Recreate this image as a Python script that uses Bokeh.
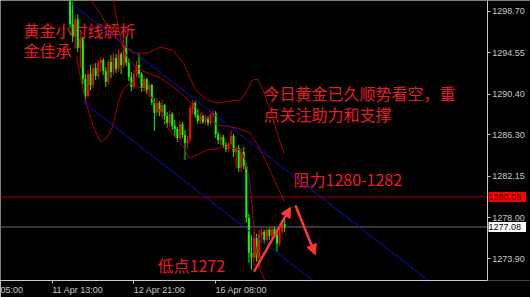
from bokeh.plotting import figure
from bokeh.models import (ColumnDataSource, FixedTicker, PrintfTickFormatter,
                          Label, Arrow, NormalHead)
from bokeh.embed import file_html
from bokeh.resources import INLINE

# Hourly gold bars, x = hours counted from 11 Apr 13:00
bar = list(range(7, 92))
open_ = [1300.6, 1297.4, 1296.3, 1297.9, 1295.0, 1295.9, 1291.9, 1290.2, 1292.4, 1291.3,
         1293.0, 1292.2, 1293.5, 1293.8, 1292.7, 1291.6, 1293.6, 1292.6, 1294.0, 1292.9,
         1294.4, 1293.3, 1295.3, 1293.5, 1292.1, 1291.1, 1292.4, 1293.3, 1292.4, 1291.0,
         1291.9, 1290.8, 1291.3, 1289.6, 1288.5, 1289.5, 1288.6, 1289.3, 1288.2, 1287.5,
         1288.4, 1287.2, 1286.9, 1286.0, 1287.4, 1286.3, 1285.5, 1285.9, 1289.0, 1289.5,
         1288.3, 1287.7, 1288.2, 1287.6, 1288.0, 1287.5, 1288.3, 1288.5, 1286.4, 1285.8,
         1286.1, 1285.3, 1284.9, 1285.4, 1286.2, 1284.6, 1285.0, 1283.0, 1284.6, 1283.2,
         1278.0, 1274.5, 1274.0, 1276.0, 1274.0, 1276.3, 1276.6, 1275.8, 1276.8, 1276.2,
         1276.9, 1276.3, 1275.4, 1276.6, 1277.4]
high = [1301.2, 1299.6, 1298.3, 1298.4, 1296.5, 1296.1, 1292.4, 1292.8, 1293.3, 1293.4,
        1293.5, 1293.8, 1294.1, 1294.0, 1293.1, 1293.9, 1294.3, 1294.5, 1294.4, 1294.9,
        1294.6, 1295.9, 1296.2, 1294.0, 1292.6, 1292.8, 1293.7, 1294.4, 1292.6, 1292.2,
        1292.0, 1291.6, 1291.4, 1290.0, 1290.0, 1289.7, 1289.8, 1289.4, 1288.6, 1288.8,
        1288.6, 1287.8, 1287.1, 1287.7, 1287.6, 1286.8, 1286.2, 1289.3, 1289.8, 1289.7,
        1288.9, 1288.5, 1288.4, 1288.3, 1288.2, 1288.5, 1288.8, 1288.7, 1286.6, 1286.4,
        1286.3, 1285.6, 1285.6, 1286.8, 1286.4, 1285.2, 1285.3, 1285.0, 1285.1, 1283.5,
        1278.4, 1276.3, 1276.6, 1276.4, 1276.8, 1276.9, 1276.8, 1277.0, 1277.0, 1277.2,
        1277.1, 1276.9, 1276.9, 1277.8, 1277.9]
low = [1297.0, 1295.6, 1294.9, 1294.6, 1293.0, 1291.4, 1289.6, 1290.0, 1290.8, 1291.0,
       1291.8, 1291.9, 1292.6, 1292.3, 1291.1, 1291.3, 1292.0, 1292.3, 1292.5, 1292.6,
       1292.4, 1293.0, 1293.2, 1291.7, 1290.7, 1290.9, 1292.1, 1292.0, 1290.6, 1290.6,
       1290.4, 1290.1, 1289.3, 1286.7, 1288.2, 1288.2, 1288.0, 1287.4, 1287.0, 1287.1,
       1286.8, 1286.1, 1285.6, 1285.8, 1286.0, 1283.8, 1284.9, 1285.6, 1288.4, 1288.0,
       1287.4, 1287.4, 1287.4, 1287.3, 1287.2, 1287.3, 1288.0, 1286.0, 1285.4, 1285.2,
       1285.0, 1284.6, 1284.6, 1285.2, 1284.1, 1283.0, 1282.6, 1282.6, 1282.9, 1277.5,
       1273.5, 1272.8, 1273.2, 1273.6, 1273.0, 1275.5, 1275.4, 1275.6, 1275.8, 1276.0,
       1276.0, 1274.6, 1275.2, 1276.4, 1276.6]
close = [1297.4, 1296.3, 1297.9, 1295.0, 1295.9, 1291.9, 1290.2, 1292.4, 1291.3, 1293.0,
         1292.2, 1293.5, 1293.8, 1292.7, 1291.6, 1293.6, 1292.6, 1294.0, 1292.9, 1294.4,
         1293.3, 1295.3, 1293.5, 1292.1, 1291.1, 1292.4, 1293.3, 1292.4, 1291.0, 1291.9,
         1290.8, 1291.3, 1289.6, 1288.5, 1289.5, 1288.6, 1289.3, 1288.2, 1287.5, 1288.4,
         1287.2, 1286.9, 1286.0, 1287.4, 1286.3, 1285.5, 1285.9, 1289.0, 1289.5, 1288.3,
         1287.7, 1288.2, 1287.6, 1288.0, 1287.5, 1288.3, 1288.5, 1286.4, 1285.8, 1286.1,
         1285.3, 1284.9, 1285.4, 1286.2, 1284.6, 1285.0, 1283.0, 1284.6, 1283.2, 1278.0,
         1274.5, 1274.0, 1276.0, 1274.0, 1276.3, 1276.6, 1275.8, 1276.8, 1276.2, 1276.9,
         1276.3, 1275.4, 1276.6, 1277.4, 1277.08]

# Bollinger bands
upper_bar = [13.4, 15.0, 18.9, 21.6, 24.8, 27.9, 31.8, 37.3, 42.4, 47.1, 51.4, 56.1, 60.8,
             64.7, 69.8, 73.7, 76.4, 78.4, 80.4, 82.3, 83.9, 86.6, 89.3, 91.0]
upper_val = [1301.3, 1299.8, 1298.5, 1297.1, 1296.1, 1295.3, 1294.5, 1294.5, 1295.1, 1294.8,
             1293.5, 1290.8, 1289.8, 1289.5, 1289.7, 1289.8, 1290.8, 1291.8, 1291.9, 1291.0,
             1289.8, 1287.8, 1285.5, 1284.4]
mid_bar = [23.2, 24.0, 24.8, 25.6, 26.7, 28.3, 30.6, 34.6, 42.4, 47.6, 54.1, 60.0, 64.7,
           72.5, 77.6, 80.4, 82.7, 85.5, 89.3, 91.0]
mid_val = [1300.8, 1299.8, 1298.5, 1297.5, 1296.1, 1294.6, 1293.6, 1292.8, 1292.0, 1291.1,
           1289.6, 1288.1, 1287.3, 1287.0, 1286.5, 1285.3, 1284.1, 1282.6, 1280.5, 1279.6]
lower_bar = [9.5, 11.1, 13.0, 15.8, 18.9, 21.3, 23.6, 25.9, 27.5, 30.6, 34.6, 38.5, 42.4,
             45.1, 48.3, 51.4, 53.4, 56.9, 60.8, 68.6, 73.7, 75.6, 77.2, 78.4, 79.6, 81.1,
             83.1, 85.4, 89.3, 91.0]
lower_val = [1294.3, 1292.0, 1289.8, 1287.3, 1285.6, 1286.0, 1287.1, 1289.5, 1290.8, 1291.5,
             1291.0, 1290.2, 1288.6, 1287.1, 1286.0, 1285.1, 1284.0, 1284.3, 1284.8, 1285.1,
             1284.8, 1283.8, 1281.8, 1278.8, 1275.3, 1273.0, 1271.8, 1270.6, 1269.8, 1269.5]

# Axis labels
time_ticks = [-32, 0, 32, 64]
time_labels = ["10 Apr 05:00", "11 Apr 13:00", "12 Apr 21:00", "16 Apr 08:00"]
price_ticks = [1298.70, 1294.55, 1290.40, 1286.30, 1282.15, 1278.00, 1273.90]

resistance_level = 1280.08
bid_price = 1277.08

# Downward channel: start bar of each line, top-line price at its start, slope per bar, width
channel_start = [7.5, 11.5]
channel_top = 1299.47
channel_slope = -0.1986
channel_width = 8.97

PX_PER_BAR = 2.5547
X_START = -20.23
X_END = X_START + 530 / PX_PER_BAR          # plot area runs under the price scale
AXIS_X = X_START + 486.7 / PX_PER_BAR       # where the price scale sits
TEXT_RED = "#ec1c24"
AXIS_GREY = "#c8c8c8"

p = figure(width=530, height=297, x_range=(X_START, X_END), y_range=(1271.72, 1299.77),
           output_backend="svg", toolbar_location=None, y_axis_location="right",
           min_border_left=0, min_border_top=0, min_border_right=0, min_border_bottom=16)
p.background_fill_color = "black"
p.border_fill_color = "black"
p.outline_line_color = None
p.grid.visible = False

# Notes on the chart (behind the candles)
notes = [
    ("黄金小时线解析", 23, 251),
    ("金佳承", 23, 231),
    ("今日黄金已久顺势看空，重", 263, 188),
    ("点关注助力和支撑", 263, 167),
    ("阻力1280-1282", 293, 102),
    ("低点1272", 157, 16),
]
for txt, sx, sy in notes:
    p.add_layout(Label(x=sx, y=sy, x_units="screen", y_units="screen", text=txt,
                       text_font="Noto Sans CJK SC", text_font_size="16px",
                       text_color=TEXT_RED, text_baseline="middle", level="underlay"))

# Horizontal levels, up to the price scale
p.segment(x0=[X_START, X_START], y0=[resistance_level, bid_price],
          x1=[AXIS_X, AXIS_X], y1=[resistance_level, bid_price],
          line_color=["#a00000", "#6e6e6e"], line_width=1)

# Candles
colors = ["#ff0000" if c > o else "#00ff00" for o, c in zip(open_, close)]
src = ColumnDataSource(dict(bar=bar, high=high, low=low,
                            top=[max(o, c) for o, c in zip(open_, close)],
                            bottom=[min(o, c) for o, c in zip(open_, close)],
                            color=colors))
p.segment(x0="bar", y0="high", x1="bar", y1="low", source=src, line_color="color", line_width=1)
p.vbar(x="bar", width=0.8, top="top", bottom="bottom", source=src,
       fill_color="color", line_color=None)

# Bollinger bands
for bx, by in ((upper_bar, upper_val), (mid_bar, mid_val), (lower_bar, lower_val)):
    p.line(bx, by, line_color="#b00000", line_width=1)

# Channel lines, ending at the price scale
for start, off in zip(channel_start, (0.0, channel_width)):
    y0 = channel_top - off + channel_slope * (start - channel_start[0])
    y1 = y0 + channel_slope * (AXIS_X - start)
    p.line([start, AXIS_X], [y0, y1], line_color="#1010c8", line_width=1)

# Arrows: rebound up, then fall back
arrow_red = "#ff3636"
for (xs, ys, xe, ye) in ((79.0, 1272.6, 93.3, 1279.06), (95.2, 1279.26, 103.0, 1274.3)):
    p.add_layout(Arrow(x_start=xs, y_start=ys, x_end=xe, y_end=ye, line_color=arrow_red,
                       line_width=2.5,
                       end=NormalHead(size=10, fill_color=arrow_red, line_color=arrow_red)))

# Price scale, pinned at AXIS_X so the tags beside it stay inside the plot area
p.yaxis.fixed_location = AXIS_X
p.yaxis.ticker = FixedTicker(ticks=price_ticks)
p.yaxis.formatter = PrintfTickFormatter(format="%.2f")
p.yaxis.axis_line_color = AXIS_GREY
p.yaxis.major_tick_line_color = AXIS_GREY
p.yaxis.major_tick_out = 3
p.yaxis.major_tick_in = 0
p.yaxis.minor_tick_line_color = None
p.yaxis.major_label_standoff = 2
p.yaxis.major_label_text_color = AXIS_GREY
p.yaxis.major_label_text_font = "Liberation Sans"
p.yaxis.major_label_text_font_size = "9px"

# Time axis: labels start at their tick, so centre them half a label to the right
LABEL_HALF = 10
centers, overrides = [], {}
for t, lab in zip(time_ticks, time_labels):
    c = t + LABEL_HALF
    if c < X_START:
        lab = lab.split()[-1]
        c = int(round(X_START + 4.3))
    centers.append(c)
    overrides[c] = lab
p.xaxis.ticker = FixedTicker(ticks=centers, minor_ticks=time_ticks)
p.xaxis.major_label_overrides = overrides
p.xaxis.bounds = (X_START, AXIS_X)
p.xaxis.axis_line_color = AXIS_GREY
p.xaxis.major_tick_line_color = None
p.xaxis.major_tick_out = 3
p.xaxis.major_tick_in = 0
p.xaxis.minor_tick_line_color = AXIS_GREY
p.xaxis.minor_tick_out = 3
p.xaxis.minor_tick_in = 0
p.xaxis.major_label_standoff = 1
p.xaxis.major_label_text_color = AXIS_GREY
p.xaxis.major_label_text_font = "Liberation Sans"
p.xaxis.major_label_text_font_size = "9px"

# Price tags on the scale
for level, fill, ink in ((resistance_level, "#ff0000", "#400000"),
                         (bid_price, "white", "black")):
    p.add_layout(Label(x=488, y=level, x_units="screen", y_units="data",
                       text=f" {level:.2f} ", text_font="Liberation Sans",
                       text_font_size="9px", text_color=ink, text_baseline="middle",
                       background_fill_color=fill))

open("out.html", "w").write(file_html(p, INLINE))
